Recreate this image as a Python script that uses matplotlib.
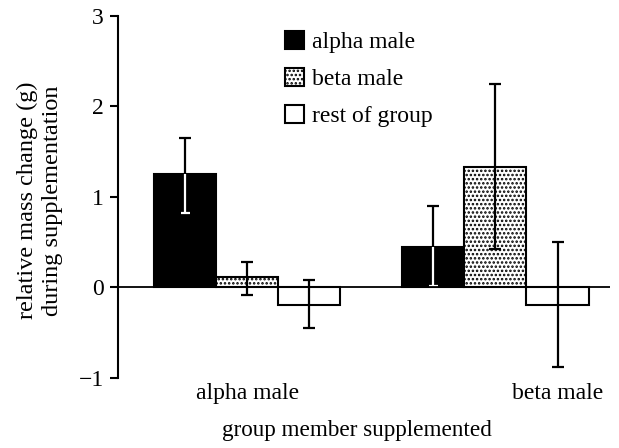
import numpy as np
import matplotlib
matplotlib.use("Agg")
import matplotlib.pyplot as plt
from matplotlib.patches import Patch

plt.rcParams['font.family'] = ['Liberation Serif', 'DejaVu Serif']
plt.rcParams['hatch.linewidth'] = 1.2

groups = ["alpha male", "beta male"]
series = ["alpha male", "beta male", "rest of group"]
values = np.array([[1.25, 0.12, -0.19],
                   [0.45, 1.33, -0.19]])
err_hi = np.array([[1.65, 0.28, 0.08],
                   [0.90, 2.25, 0.50]])
err_lo = np.array([[0.82, -0.08, -0.45],
                   [0.02, 0.42, -0.88]])

width = 0.25
faces = ["black", "white", "white"]
hatches = [None, "....", None]

fig = plt.figure(figsize=(6.19, 4.48), dpi=100)
ax = fig.add_axes([0.1906, 0.1563, 0.795, 0.808])

for g in range(len(groups)):
    for s in range(len(series)):
        x = g + (s - 1) * width
        v = values[g, s]
        ax.bar(x, v, width, color=faces[s], edgecolor="black", linewidth=1.5,
               hatch=hatches[s], zorder=2)
        ax.errorbar(x, v, yerr=[[v - err_lo[g, s]], [err_hi[g, s] - v]],
                    fmt="none", ecolor="black", elinewidth=1.6, capsize=4.5,
                    capthick=1.6, zorder=3)
        if faces[s] == "black":
            # part of the error bar inside a black bar shows in white
            ax.vlines(x, err_lo[g, s], v, color="white", linewidth=1.6, zorder=4)
            ax.hlines(err_lo[g, s], x - 0.018, x + 0.018, color="white",
                      linewidth=1.6, zorder=4)

ax.axhline(0, color="black", linewidth=1.3, zorder=5)

ax.set_xlim(-0.522, 1.462)
ax.set_ylim(-1, 3)
ax.set_yticks([-1, 0, 1, 2, 3])
ax.set_yticklabels(["\u22121", "0", "1", "2", "3"])
ax.tick_params(axis="y", labelsize=17, width=1.5, length=6, direction="out", pad=4)
ax.set_xticks([])
for sp in ["top", "right", "bottom"]:
    ax.spines[sp].set_visible(False)
ax.spines["left"].set_linewidth(1.5)

# group labels as in the original figure
label_x = [0.0, 1.25]
for lx, name in zip(label_x, groups):
    ax.text(lx, -1.05, name, ha="center", va="top", fontsize=17)

ax.set_ylabel("relative mass change (g)\nduring supplementation", fontsize=17.5,
              linespacing=1.25)
ax.yaxis.set_label_coords(-0.112, 0.49)
fig.text(0.577, 0.04, "group member supplemented",
         ha="center", va="center", fontsize=16.7)

handles = [Patch(facecolor=faces[i], edgecolor="black", hatch=hatches[i],
                 linewidth=1.5) for i in range(3)]
ax.legend(handles, series, loc="upper left", bbox_to_anchor=(0.32, 0.985),
          frameon=False, fontsize=17, handlelength=0.8, handleheight=0.8,
          handletextpad=0.35, labelspacing=0.62, borderaxespad=0)

fig.savefig("out.png", dpi=100)
